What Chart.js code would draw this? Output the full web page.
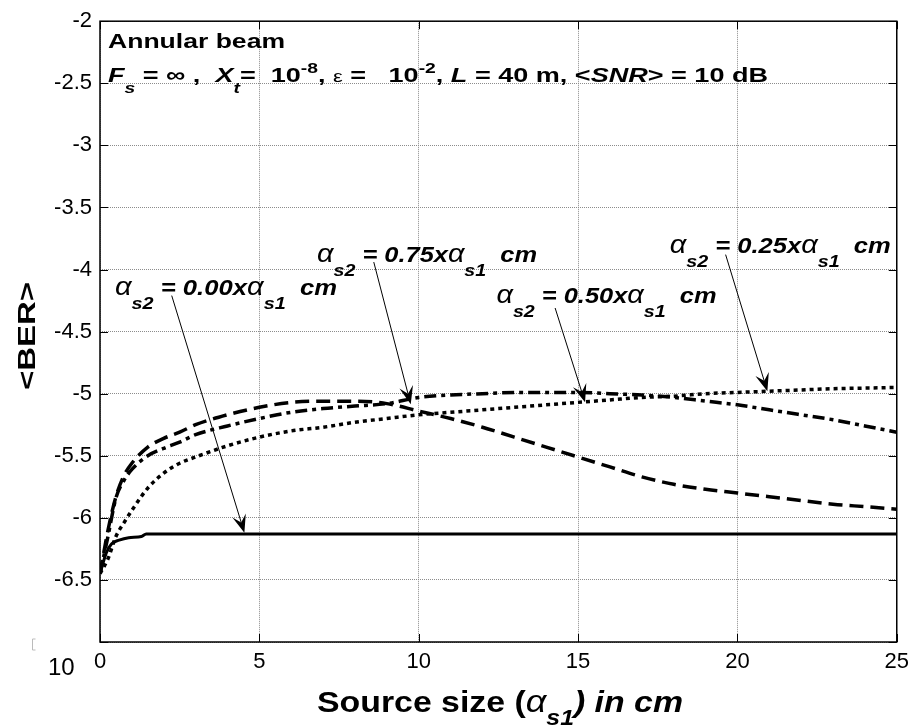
<!DOCTYPE html>
<html>
<head>
<meta charset="utf-8">
<title>Annular beam - BER vs source size</title>
<script src="https://cdn.jsdelivr.net/npm/chart.js@4.4.1/dist/chart.umd.min.js"></script>
<style>
  html, body { margin: 0; padding: 0; background: #fff; }
  #chart { display: block; }
</style>
</head>
<body>
<canvas id="chart" width="916" height="727"></canvas>
<script>
// source size alpha_s1 in cm, shared by the three curved series
const sourceSize = [0, 0.25, 0.5, 0.75, 1, 1.5, 2, 2.5, 3, 4, 5, 6, 7, 8, 9, 10,
  11, 12, 13, 14, 15, 16, 17, 18, 19, 20, 21, 22, 23, 24, 25];

// log10 <BER>
const berDashed = [-6.45, -6.1, -5.83, -5.66, -5.56, -5.43, -5.36, -5.31, -5.25, -5.17, -5.11,
  -5.07, -5.06, -5.06, -5.08, -5.14, -5.2, -5.27, -5.35, -5.43, -5.51, -5.59, -5.67, -5.73,
  -5.77, -5.8, -5.83, -5.86, -5.89, -5.91, -5.93];
const berDashDot = [-6.45, -6.15, -5.84, -5.7, -5.61, -5.5, -5.44, -5.39, -5.33, -5.26, -5.2,
  -5.15, -5.12, -5.1, -5.08, -5.03, -5.01, -5.0, -4.99, -4.99, -4.99, -5.0, -5.01, -5.03,
  -5.06, -5.09, -5.13, -5.17, -5.21, -5.26, -5.31];
const berDotted = [-6.45, -6.33, -6.15, -6.04, -5.94, -5.76, -5.64, -5.56, -5.51, -5.42, -5.35,
  -5.3, -5.27, -5.23, -5.2, -5.17, -5.15, -5.13, -5.11, -5.09, -5.07, -5.05, -5.03, -5.02,
  -5.0, -4.99, -4.98, -4.97, -4.96, -4.955, -4.95];

// the flat curve (alpha_s2 = 0) has its own sampling
const sourceSizeSolid = [0, 0.1, 0.2, 0.36, 0.6, 0.9, 1.3, 1.45, 25];
const berSolid = [-6.45, -6.36, -6.28, -6.21, -6.18, -6.16, -6.15, -6.13, -6.13];

const ratios = ['0.00', '0.75', '0.50', '0.25'];

const FONT = '"Liberation Sans", Arial, sans-serif';
const B = s => `bold ${s}px ${FONT}`;
const BI = s => `italic bold ${s}px ${FONT}`;
const I = s => `italic ${s}px ${FONT}`;
const N = s => `${s}px ${FONT}`;
const seg = (text, font, dy) => ({ text, font, dy: dy || 0 });

function points(xs, ys) {
  return xs.map((x, i) => ({ x: x, y: ys[i] }));
}

// draws a run of text pieces (sub/superscripts), stretched to a given width
function drawRich(ctx, segs, x, y, width) {
  let total = 0;
  segs.forEach(s => {
    ctx.font = s.font;
    s.w = ctx.measureText(s.text).width;
    total += s.w;
  });
  const sx = width ? width / total : 1;
  ctx.save();
  ctx.translate(x, y);
  ctx.scale(sx, 1);
  ctx.fillStyle = '#000';
  ctx.textAlign = 'left';
  ctx.textBaseline = 'alphabetic';
  let cx = 0;
  segs.forEach(s => {
    ctx.font = s.font;
    ctx.fillText(s.text, cx, s.dy);
    cx += s.w;
  });
  ctx.restore();
}

function drawArrow(ctx, x0, y0, x1, y1) {
  const ang = Math.atan2(y1 - y0, x1 - x0);
  const len = 18, half = 7;
  ctx.save();
  ctx.strokeStyle = '#000';
  ctx.fillStyle = '#000';
  ctx.lineWidth = 1;
  ctx.beginPath();
  ctx.moveTo(x0, y0);
  ctx.lineTo(x1 - Math.cos(ang) * len * 0.6, y1 - Math.sin(ang) * len * 0.6);
  ctx.stroke();
  ctx.translate(x1, y1);
  ctx.rotate(ang);
  ctx.beginPath();
  ctx.moveTo(0, 0);
  ctx.lineTo(-len, -half);
  ctx.lineTo(-len * 0.6, 0);
  ctx.lineTo(-len, half);
  ctx.closePath();
  ctx.fill();
  ctx.restore();
}

// label text start / baseline, width, and arrow tail -> tip, all in data units
const callouts = [
  { ratio: ratios[0], x: 0.47, y: -4.204, w: 222, tail: [2.25, -4.21], tip: [4.53, -6.12] },
  { ratio: ratios[1], x: 6.81, y: -3.94, w: 220, tail: [8.59, -3.94], tip: [9.75, -5.085] },
  { ratio: ratios[2], x: 12.44, y: -4.27, w: 220, tail: [14.28, -4.31], tip: [15.22, -5.07] },
  { ratio: ratios[3], x: 17.875, y: -3.867, w: 221, tail: [19.63, -3.88], tip: [20.94, -4.98] }
];

const decorations = {
  id: 'decorations',
  afterDraw(chart) {
    const ctx = chart.ctx;
    const xs = chart.scales.x, ys = chart.scales.y;
    const a = chart.chartArea;

    // box and inward ticks, matlab style
    ctx.save();
    ctx.strokeStyle = '#000';
    ctx.lineWidth = 1.5;
    ctx.strokeRect(a.left, a.top, a.right - a.left, a.bottom - a.top);
    ctx.lineWidth = 1;
    ctx.beginPath();
    for (let v = 0; v <= 25; v += 5) {
      const px = Math.round(xs.getPixelForValue(v)) + 0.5;
      ctx.moveTo(px, a.bottom); ctx.lineTo(px, a.bottom - 8);
      ctx.moveTo(px, a.top); ctx.lineTo(px, a.top + 8);
    }
    for (let v = -7; v <= -2; v += 0.5) {
      const py = Math.round(ys.getPixelForValue(v)) + 0.5;
      ctx.moveTo(a.left, py); ctx.lineTo(a.left + 8, py);
      ctx.moveTo(a.right, py); ctx.lineTo(a.right - 8, py);
    }
    ctx.stroke();
    ctx.restore();

    // header text
    drawRich(ctx, [seg('Annular beam', B(21))], 108, 48, 177);
    drawRich(ctx, [
      seg('F', BI(21)), seg('s', BI(15), 11), seg(' = \u221E ,  ', B(21)),
      seg('X', BI(21)), seg('t', BI(15), 11), seg('=  10', B(21)), seg('-8', B(15), -9),
      seg(', ', B(21)), seg('\u03B5', N(17)), seg(' =   10', B(21)), seg('-2', B(15), -9),
      seg(', ', B(21)), seg('L', BI(21)), seg(' = 40 m, <', B(21)), seg('SNR', BI(21)),
      seg('> = 10 dB', B(21))
    ], 108, 82, 660);

    // callouts with arrows
    callouts.forEach(c => {
      drawRich(ctx, [
        seg('\u03B1', I(25)), seg('s2', BI(17), 14), seg(' = ' + c.ratio + 'x', BI(22)),
        seg('\u03B1', I(25)), seg('s1', BI(17), 14), seg('  cm', BI(22))
      ], xs.getPixelForValue(c.x), ys.getPixelForValue(c.y), c.w);
      drawArrow(ctx,
        xs.getPixelForValue(c.tail[0]), ys.getPixelForValue(c.tail[1]),
        xs.getPixelForValue(c.tip[0]), ys.getPixelForValue(c.tip[1]));
    });

    // axis titles
    ctx.save();
    ctx.translate(35, 336);
    ctx.rotate(-Math.PI / 2);
    drawRich(ctx, [seg('<BER>', B(24))], -54, 0, 108);
    ctx.restore();

    drawRich(ctx, [
      seg('Source size (', B(30)), seg('\u03B1', I(32)), seg('s1', BI(22), 13),
      seg(') in cm', BI(30))
    ], 317, 712, 366);

    // leftover exponent label from the original export
    ctx.save();
    ctx.fillStyle = '#000';
    ctx.font = N(24);
    ctx.textBaseline = 'alphabetic';
    ctx.fillText('10', 48, 675);
    ctx.strokeStyle = '#bbb';
    ctx.lineWidth = 1;
    ctx.beginPath();
    ctx.moveTo(35.5, 639); ctx.lineTo(32.5, 639); ctx.lineTo(32.5, 650); ctx.lineTo(35.5, 650);
    ctx.stroke();
    ctx.restore();
  }
};

const lineBase = {
  borderColor: '#000',
  borderWidth: 3.5,
  pointRadius: 0,
  fill: false,
  cubicInterpolationMode: 'monotone'
};

new Chart(document.getElementById('chart'), {
  type: 'line',
  data: {
    datasets: [
      Object.assign({ label: 'alpha_s2 = 0.00 alpha_s1', data: points(sourceSizeSolid, berSolid) }, lineBase, { borderWidth: 3 }),
      Object.assign({ label: 'alpha_s2 = 0.75 alpha_s1', data: points(sourceSize, berDashed), borderDash: [14, 7] }, lineBase),
      Object.assign({ label: 'alpha_s2 = 0.50 alpha_s1', data: points(sourceSize, berDashDot), borderDash: [12, 5, 4, 5] }, lineBase),
      Object.assign({ label: 'alpha_s2 = 0.25 alpha_s1', data: points(sourceSize, berDotted), borderDash: [4, 4] }, lineBase)
    ]
  },
  options: {
    responsive: false,
    animation: false,
    layout: { padding: { top: 20, right: 16, left: 0, bottom: 0 } },
    plugins: {
      legend: { display: false },
      tooltip: { enabled: false }
    },
    scales: {
      x: {
        type: 'linear',
        min: 0,
        max: 25,
        afterFit: s => { s.height = 85; },
        ticks: { stepSize: 5, color: '#000', font: { family: FONT, size: 22 }, padding: 7, maxRotation: 0 },
        grid: { color: '#8c8c8c', lineWidth: 1, drawTicks: false },
        border: { display: false, dash: [1, 1] }
      },
      y: {
        min: -7,
        max: -2,
        afterFit: s => { s.width = 100; },
        ticks: {
          stepSize: 0.5,
          color: '#000',
          font: { family: FONT, size: 22 },
          padding: 8,
          callback: v => (v === -7 ? '' : String(v))
        },
        grid: { color: '#8c8c8c', lineWidth: 1, drawTicks: false },
        border: { display: false, dash: [1, 1] }
      }
    }
  },
  plugins: [decorations]
});
</script>
</body>
</html>
